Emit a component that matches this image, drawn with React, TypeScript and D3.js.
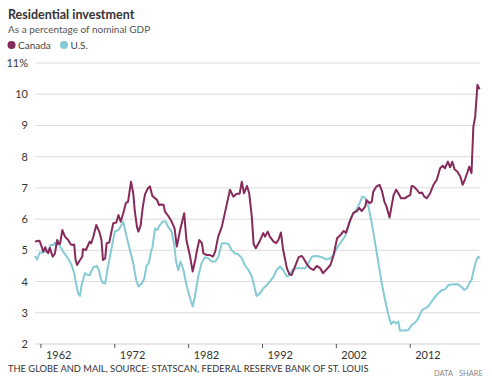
import React from "react";
import * as d3 from "d3";

const canadaYears = [1961.2,1961.5,1961.8,1962.1,1962.3,1962.6,1962.8,1963.0,1963.2,1963.6,1963.9,1964.2,1964.4,1964.6,1964.9,1965.25,1965.5,1965.7,1966.0,1966.2,1966.5,1966.7,1966.9,1967.1,1967.3,1967.6,1967.7,1968.1,1968.4,1968.6,1968.8,1969.1,1969.5,1969.9,1970.2,1970.4,1970.7,1970.9,1971.25,1971.6,1971.8,1972.2,1972.5,1972.8,1973.15,1973.5,1973.8,1974.2,1974.5,1974.7,1975.0,1975.2,1975.5,1975.8,1976.1,1976.5,1976.75,1977.1,1977.4,1977.7,1978.0,1978.3,1978.6,1978.8,1979.25,1979.5,1979.7,1980.1,1980.4,1980.85,1981.4,1981.7,1982.2,1982.55,1982.9,1983.1,1983.45,1983.8,1984.0,1984.45,1984.9,1985.3,1985.6,1986.0,1986.5,1987.1,1987.6,1988.05,1988.5,1988.9,1989.2,1989.5,1989.9,1990.2,1990.55,1990.8,1991.1,1991.6,1992.1,1992.35,1992.7,1993.0,1993.5,1993.85,1994.15,1994.5,1994.8,1995.3,1995.65,1995.95,1996.4,1996.9,1997.3,1997.55,1998.0,1998.45,1998.9,1999.35,1999.8,2000.2,2000.6,2001.2,2001.6,2002.1,2002.6,2003.0,2003.3,2003.8,2004.3,2004.8,2005.1,2005.45,2005.9,2006.1,2006.5,2006.8,2007.0,2007.4,2007.85,2008.2,2008.5,2008.8,2009.2,2009.75,2010.1,2010.4,2010.75,2011.3,2011.6,2012.0,2012.2,2012.5,2012.9,2013.25,2013.6,2013.9,2014.25,2014.7,2015.15,2015.6,2016.05,2016.4,2016.7,2017.1,2017.4,2017.7,2018.0,2018.4,2018.8,2019.1,2019.4,2019.7,2020.0,2020.3,2020.55,2020.8,2021.1,2021.4];
const canadaValues = [5.28,5.3,5.31,5.12,4.96,5.1,4.95,4.92,5.08,4.8,4.9,5.33,5.2,5.22,5.65,5.44,5.38,5.33,5.2,5.17,5.19,4.69,4.53,4.62,4.69,4.8,5.04,5.01,5.17,5.28,5.22,5.44,5.81,5.6,5.33,4.69,4.74,5.23,5.25,5.65,5.87,5.89,6.13,5.92,6.19,6.51,6.56,7.2,6.83,6.29,5.76,5.6,5.8,6.4,6.8,6.99,7.05,6.74,6.68,6.62,6.45,6.47,6.46,6.24,6.1,6.0,5.92,5.7,5.12,5.65,6.19,5.33,4.8,4.32,4.69,4.96,5.33,5.23,4.9,4.85,4.85,4.8,4.96,5.44,5.76,6.4,6.94,6.72,6.81,6.81,7.2,6.83,7.06,6.83,6.08,5.2,5.07,5.28,5.55,5.44,5.6,5.44,5.28,5.23,5.33,5.57,5.01,4.43,4.23,4.21,4.48,4.78,4.82,4.75,4.56,4.43,4.37,4.5,4.43,4.27,4.37,4.53,4.82,5.39,5.5,5.62,5.56,5.92,6.2,6.26,6.36,6.26,6.4,6.61,6.51,6.56,6.88,7.04,7.1,6.88,6.56,6.4,6.05,6.77,6.94,6.83,6.67,6.67,6.72,6.77,7.06,7.04,6.94,6.83,6.85,6.72,6.67,6.83,7.1,7.26,7.63,7.71,7.63,7.84,7.66,7.84,7.6,7.52,7.36,7.1,7.26,7.47,7.68,7.47,8.96,9.28,10.3,10.16];

const usYears = [1961.2,1961.5,1961.85,1962.3,1962.8,1963.0,1963.3,1963.7,1963.9,1964.1,1964.35,1964.6,1965.0,1965.5,1965.8,1966.15,1966.5,1966.8,1967.05,1967.3,1967.5,1967.7,1967.95,1968.3,1968.6,1969.1,1969.55,1969.85,1970.1,1970.35,1970.7,1971.0,1971.35,1971.7,1972.0,1972.5,1972.9,1973.15,1973.6,1974.05,1974.5,1974.9,1975.2,1975.65,1976.0,1976.3,1976.6,1976.9,1977.1,1977.45,1977.75,1978.1,1978.5,1978.9,1979.25,1979.7,1980.05,1980.3,1980.6,1980.9,1981.3,1981.7,1982.2,1982.55,1982.85,1983.3,1983.75,1984.2,1984.65,1985.1,1985.6,1986.0,1986.5,1986.9,1987.4,1987.8,1988.3,1988.7,1989.2,1989.6,1990.1,1990.55,1990.9,1991.2,1991.65,1992.1,1992.6,1993.0,1993.5,1993.9,1994.4,1994.8,1995.3,1995.65,1996.1,1996.65,1997.1,1997.8,1998.2,1998.7,1999.35,2000.0,2000.6,2001.15,2001.6,2002.1,2002.6,2003.2,2003.65,2004.1,2004.55,2005.1,2005.5,2005.9,2006.35,2006.8,2007.25,2007.7,2008.15,2008.6,2009.05,2009.4,2009.75,2010.1,2010.4,2010.6,2011.3,2011.75,2012.2,2012.65,2013.1,2013.6,2014.0,2014.45,2014.9,2015.4,2015.8,2016.3,2016.7,2017.2,2017.85,2018.5,2019.0,2019.3,2019.65,2020.0,2020.3,2020.6,2020.9,2021.2,2021.45];
const usValues = [4.82,4.71,4.93,4.93,5.01,4.9,5.17,5.17,5.25,5.15,5.3,5.12,4.96,4.8,4.69,4.53,4.27,3.89,3.62,3.54,3.89,4.05,4.27,4.21,4.21,4.46,4.5,4.37,4.1,3.96,3.94,4.37,4.8,5.23,5.6,5.65,5.81,5.92,5.44,5.01,4.59,4.05,3.84,3.94,4.1,4.5,4.59,4.95,5.1,5.7,5.65,5.81,5.92,5.92,5.74,5.6,5.17,4.64,4.37,4.64,4.37,3.89,3.46,3.2,3.52,4.16,4.59,4.78,4.75,4.64,4.64,4.78,5.23,5.23,5.2,5.01,4.9,4.88,4.75,4.53,4.37,4.16,3.84,3.54,3.62,3.78,3.89,4.0,4.16,4.37,4.48,4.37,4.16,4.21,4.39,4.43,4.43,4.43,4.59,4.8,4.82,4.78,4.71,4.74,4.85,5.08,5.25,5.46,5.78,6.1,6.24,6.48,6.72,6.68,6.4,5.87,5.23,4.59,3.94,3.41,2.93,2.64,2.72,2.66,2.72,2.43,2.43,2.45,2.61,2.68,2.82,3.09,3.14,3.2,3.36,3.52,3.62,3.73,3.75,3.89,3.91,3.91,3.82,3.73,3.78,3.94,4.05,4.37,4.64,4.8,4.75];

const yTicks = [2, 3, 4, 5, 6, 7, 8, 9, 10, 11];
const xTicks = [1962, 1972, 1982, 1992, 2002, 2012];
const seriesNames = ["Canada", "U.S."];

const CANADA = "#862a5c";
const US = "#85cbd5";
const FONT = "Lato, 'Open Sans', sans-serif";

export default function App() {
  const W = 492, H = 386;
  const x = d3.scaleLinear().domain([1961.2, 2021.45]).range([35, 480]);
  const y = d3.scaleLinear().domain([2, 11]).range([344, 63]);
  const line = d3.line<[number, number]>().x(d => x(d[0])).y(d => y(d[1])).curve(d3.curveLinear);
  const canada: [number, number][] = canadaYears.map((yr, i) => [yr, canadaValues[i]]);
  const us: [number, number][] = usYears.map((yr, i) => [yr, usValues[i]]);

  return (
    <svg width={W} height={H} style={{ position: "absolute", left: 0, top: 0, background: "#fff" }} fontFamily={FONT}>
      <text x={8} y={19} fontSize={12.5} fontWeight={700} fill="#333">Residential investment</text>
      <text x={8} y={33} fontSize={10} fill="#555">As a percentage of nominal GDP</text>
      <circle cx={11.5} cy={45} r={4} fill={CANADA} />
      <text x={18} y={48.5} fontSize={10} fill="#444">{seriesNames[0]}</text>
      <circle cx={64} cy={45} r={4} fill={US} />
      <text x={70.5} y={48.5} fontSize={10} fill="#444">{seriesNames[1]}</text>

      {yTicks.map(t => (
        <g key={t}>
          {t !== 2 && <line x1={35} x2={480} y1={y(t)} y2={y(t)} stroke="#dcdcdc" strokeWidth={1} />}
          <text x={28} y={y(t) + 4} fontSize={11} fill="#333" textAnchor="end">{t === 11 ? "11%" : t}</text>
        </g>
      ))}
      <line x1={35} x2={480} y1={y(2)} y2={y(2)} stroke="#cfcfcf" strokeWidth={1} />
      {xTicks.map(t => (
        <g key={t}>
          <line x1={x(t)} x2={x(t)} y1={y(2)} y2={y(2) + 4} stroke="#555" strokeWidth={1} />
          <text x={x(t) + 5} y={359} fontSize={11} fill="#333">{t}</text>
        </g>
      ))}

      <path d={line(us) || ""} fill="none" stroke={US} strokeWidth={2} strokeLinejoin="round" />
      <path d={line(canada) || ""} fill="none" stroke={CANADA} strokeWidth={2} strokeLinejoin="round" />

      <text x={8} y={372} fontSize={9.3} fill="#333">THE GLOBE AND MAIL, SOURCE: STATSCAN, FEDERAL RESERVE BANK OF ST. LOUIS</text>
      <text x={434} y={376} fontSize={7.5} fill="#888">DATA</text>
      <text x={459} y={376} fontSize={7.5} fill="#888">SHARE</text>
    </svg>
  );
}
